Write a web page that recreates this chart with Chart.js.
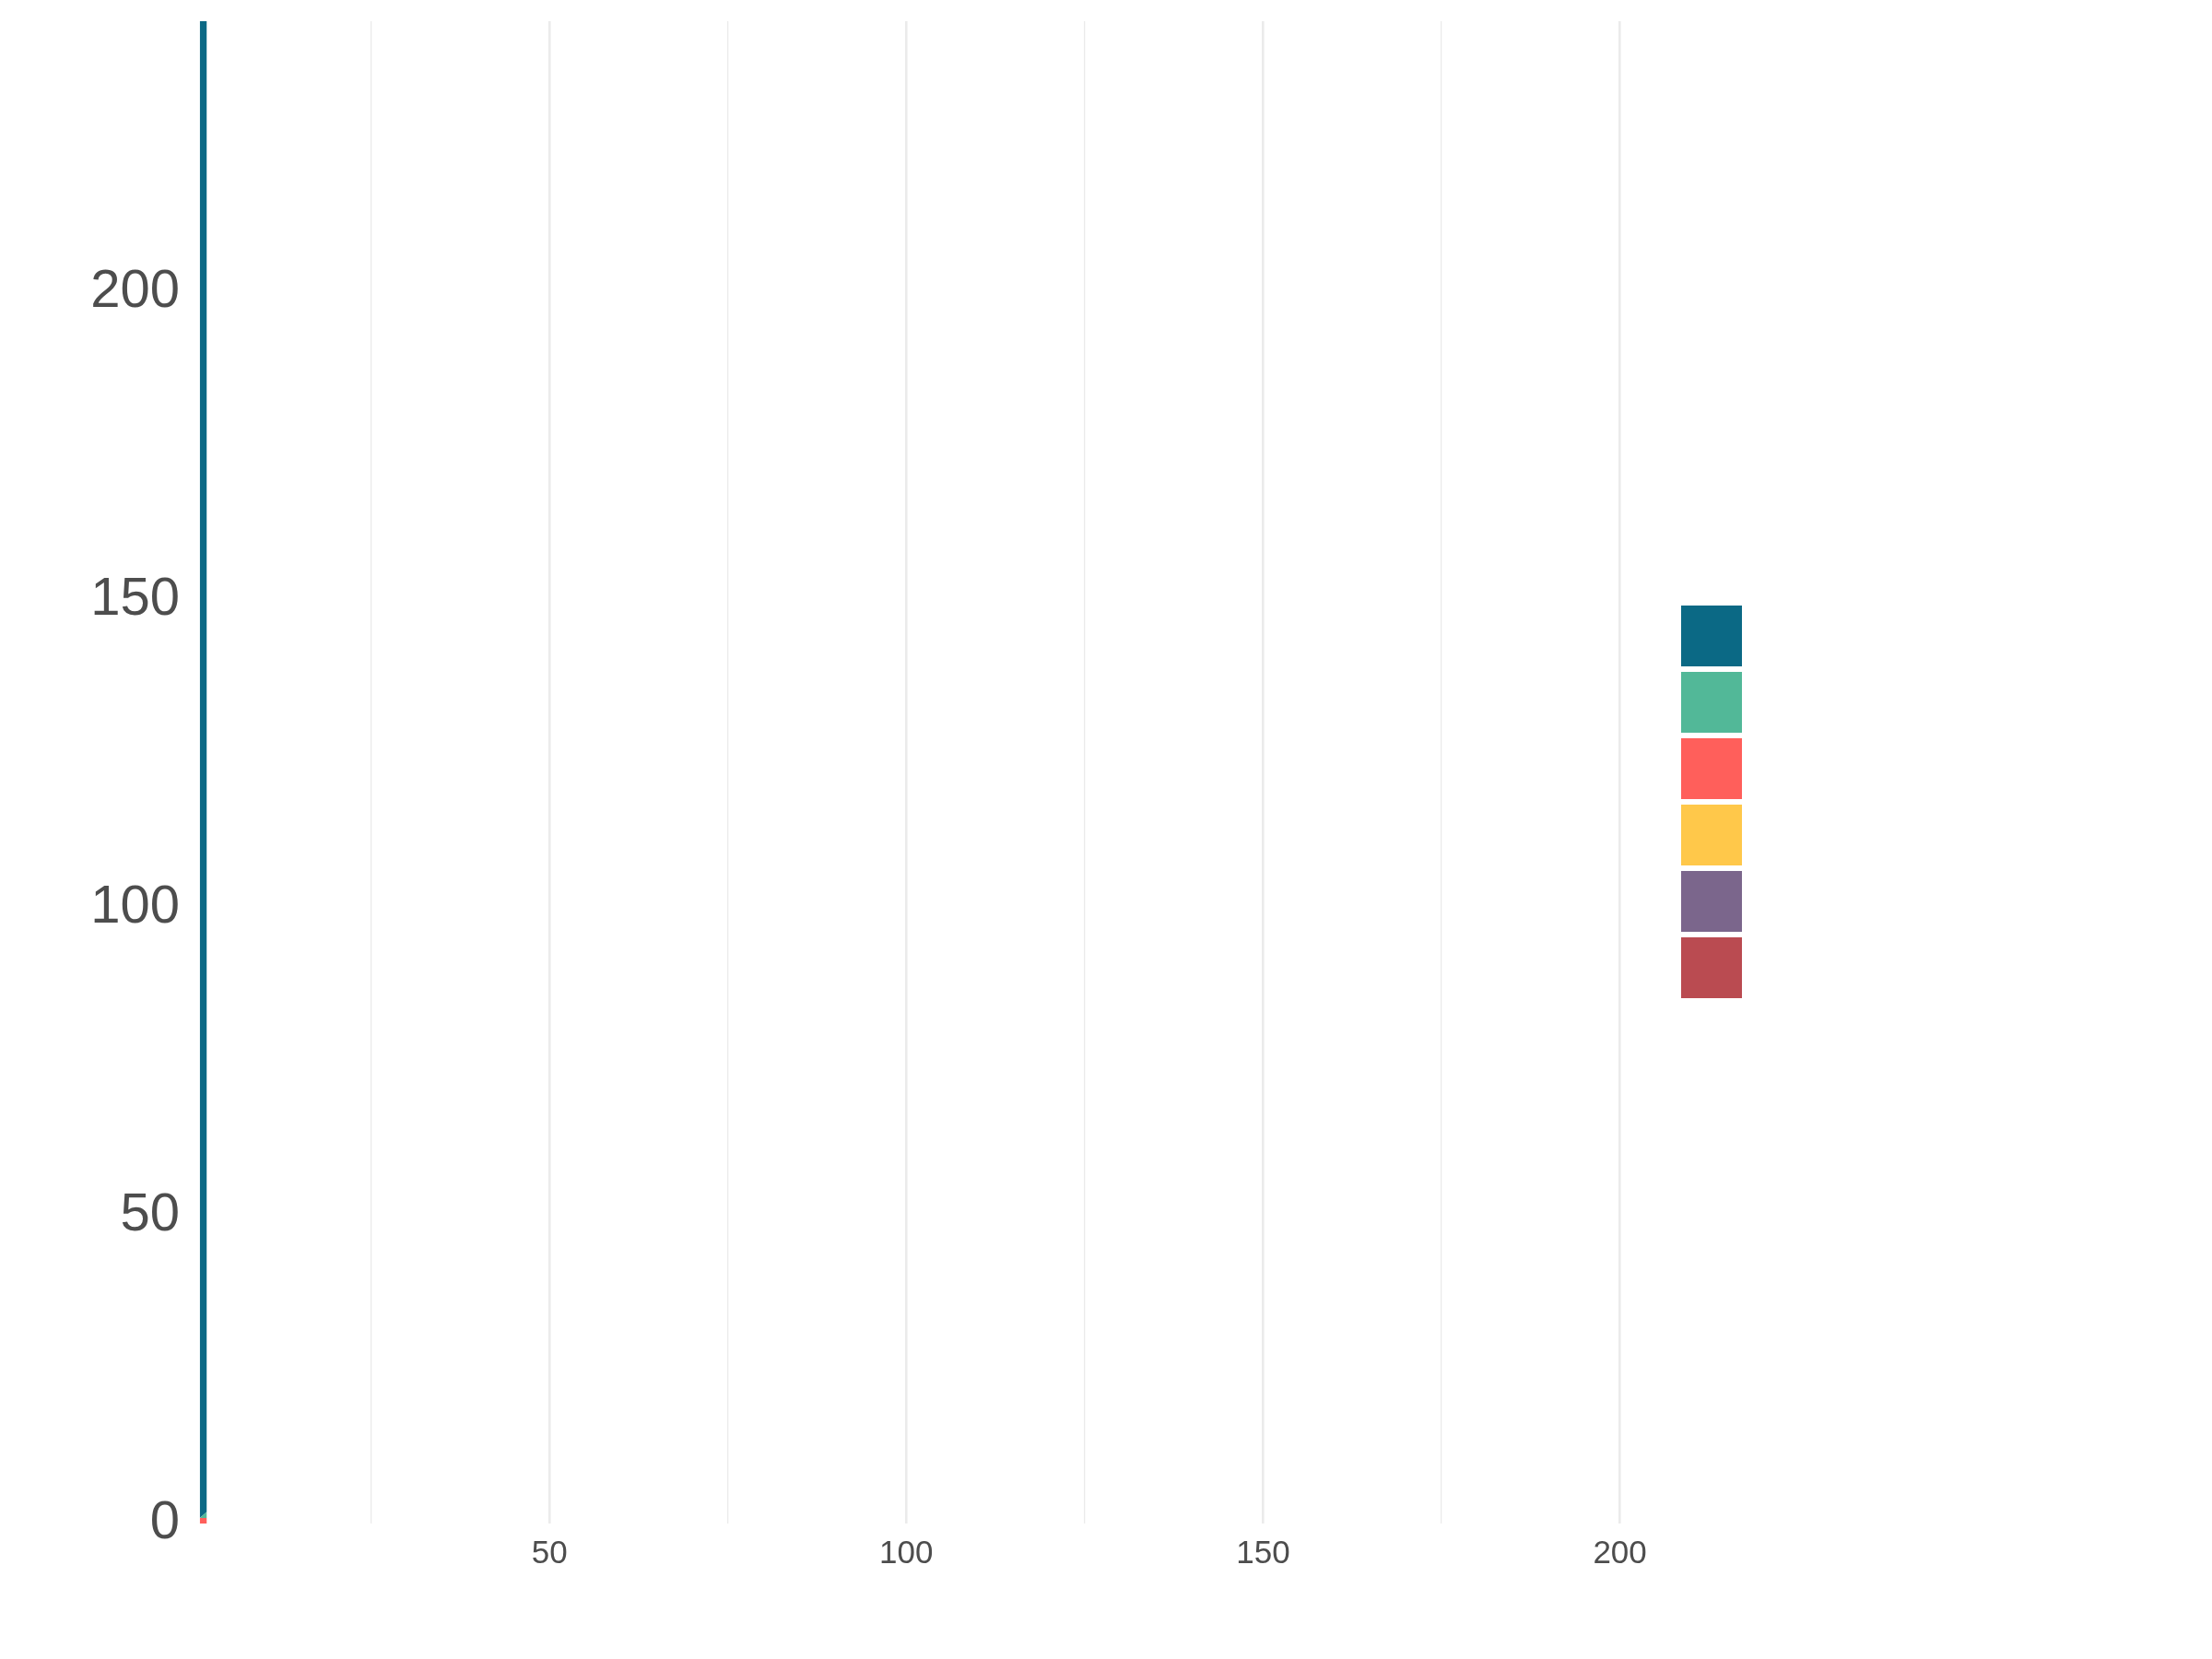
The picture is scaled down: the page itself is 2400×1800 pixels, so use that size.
<!DOCTYPE html>
<html>
<head>
<meta charset="utf-8">
<script src="https://cdn.jsdelivr.net/npm/chart.js@4"></script>
<style>
  body { margin: 0; background: #ffffff; }
  canvas { display: block; }
</style>
</head>
<body>
<canvas id="myChart" width="2400" height="1800"></canvas>
<script>
// Datos del gráfico (área apilada)

const xValues = [1, 2];
const seriesNames = ["", "", "", "", "", ""];
const seriesColors = ["#0b6985", "#52b898", "#ff5f5b", "#ffc84a", "#7b668c", "#ba4b51"];
const serie1 = [243.1, 242.1];
const serie2 = [0, 1];
const serie3 = [0.9, 0.9];
const serie4 = [0, 0];
const serie5 = [0, 0];
const serie6 = [0, 0];
const xTicks = [50, 100, 150, 200];
const yTicks = [0, 50, 100, 150, 200];
const xMin = 0;
const xMax = 207.8;
const yMax = 244;

// Armo los datasets: el último va abajo, el primero arriba

const allSeries = [serie1, serie2, serie3, serie4, serie5, serie6];

const datasets = allSeries
  .map((values, i) => {
    return {
      label: seriesNames[i],
      data: values.map((v, j) => ({ x: xValues[j], y: v })),
      backgroundColor: seriesColors[i],
      borderColor: seriesColors[i],
      borderWidth: 0,
      pointRadius: 0,
      fill: "stack",
      tension: 0
    };
  })
  .reverse();

const textColor = "#4d4d4d";

const config = {
  type: "line",
  data: { datasets },
  options: {
    responsive: false,
    animation: false,
    devicePixelRatio: 1,
    layout: {
      padding: { left: 0, top: 23, right: 494, bottom: 83 }
    },
    plugins: {
      legend: {
        position: "right",
        reverse: true,
        labels: {
          boxWidth: 66,
          boxHeight: 66,
          padding: 6,
          font: { size: 12, family: "Liberation Sans" },
          color: textColor
        }
      },
      tooltip: { enabled: false }
    },
    scales: {
      x: {
        type: "linear",
        min: xMin,
        max: xMax,
        border: { display: false },
        grid: {
          drawTicks: false,
          color: (ctx) => {
            const v = ctx.tick ? ctx.tick.value : 0;
            return v > 0 && v % 25 === 0 ? "#ebebeb" : "rgba(0,0,0,0)";
          },
          lineWidth: (ctx) => {
            const v = ctx.tick ? ctx.tick.value : 0;
            return v % 50 === 0 ? 2.6 : 1.3;
          }
        },
        ticks: {
          stepSize: 25,
          includeBounds: false,
          autoSkip: false,
          maxRotation: 0,
          padding: 12,
          color: textColor,
          font: { size: 35, family: "Liberation Sans" },
          callback: (value) => (xTicks.includes(value) ? String(value) : "")
        },
        afterFit: (scale) => {
          scale.height = 64;
          scale.paddingLeft = 0;
          scale.paddingRight = 0;
        }
      },
      y: {
        stacked: true,
        min: 0,
        max: yMax,
        border: { display: false },
        grid: { display: false, drawTicks: false },
        ticks: {
          stepSize: 50,
          includeBounds: false,
          autoSkip: false,
          padding: 14,
          color: textColor,
          font: { size: 58, family: "Liberation Sans" },
          callback: (value) => (yTicks.includes(value) ? String(value) : "")
        },
        afterFit: (scale) => {
          scale.width = 209;
          scale.paddingTop = 0;
          scale.paddingBottom = 0;
        }
      }
    }
  }
};

const myChart = document.getElementById("myChart");
new Chart(myChart, config);
</script>
</body>
</html>
